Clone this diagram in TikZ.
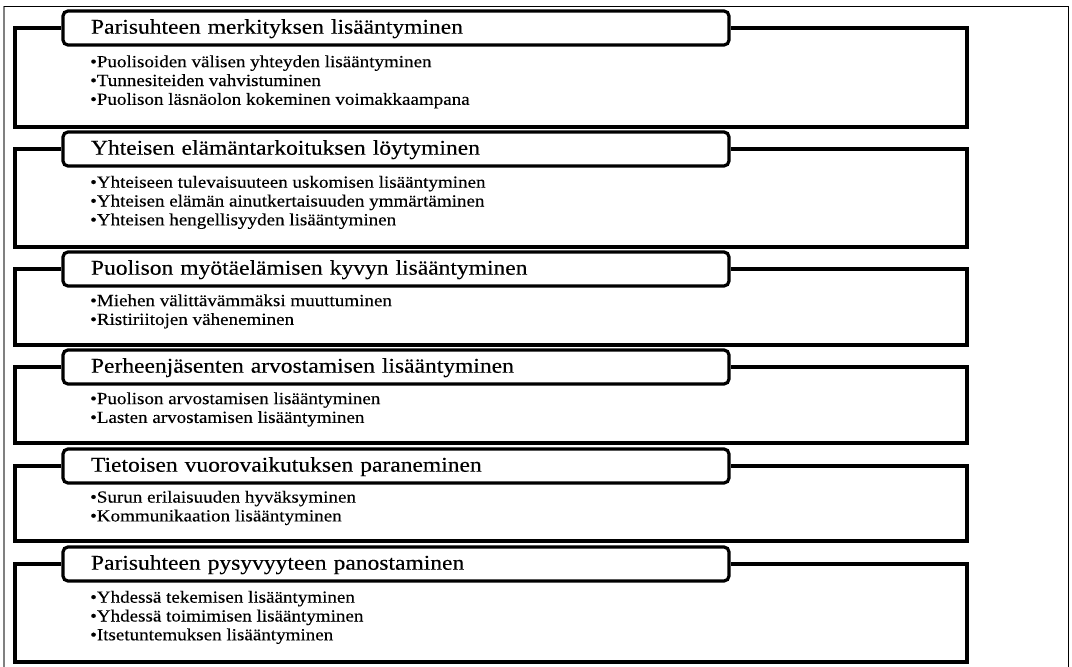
\documentclass[tikz,border=0pt]{standalone}
\usepackage{fontspec}
\setmainfont[FakeStretch=1.12,FakeBold=0.3]{Liberation Serif}
\begin{document}
\begin{tikzpicture}[x=1pt,y=-1pt,
  sect/.style={line width=3.2pt, line join=miter},
  titlebox/.style={draw, line width=3.2pt, rounded corners=5pt, minimum width=666pt,
    minimum height=34pt, text width=610pt, inner xsep=28pt, inner ysep=0pt,
    align=left, text height=15pt, text depth=3.6pt,
    font=\fontsize{21}{25}\selectfont},
  item/.style={anchor=base west, inner sep=0pt, font=\fontsize{17}{19}\selectfont},
  frame/.style={line width=1pt}]
\useasboundingbox (0,0) rectangle (1072,667);
% outer frame
\draw[gray, line width=1.5pt] (4,667) -- (4,6);
\draw[frame] (4,6) -- (1068,6) -- (1068,667);

% section 1
\node[titlebox] (t1) at (396,28) {Parisuhteen merkityksen lisääntyminen};
\draw[sect] (t1.west) -- (15,28) |- (967,127) |- (t1.east);
\node[item] (b1a) at (90,67.2) {•Puolisoiden välisen yhteyden lisääntyminen};
\node[item] (b1b) at (90,86) {•Tunnesiteiden vahvistuminen};
\node[item] (b1c) at (90,104.8) {•Puolison läsnäolon kokeminen voimakkaampana};

% section 2
\node[titlebox] (t2) at (396,149) {Yhteisen elämäntarkoituksen löytyminen};
\draw[sect] (t2.west) -- (15,149) |- (967,247) |- (t2.east);
\node[item] (b2a) at (90,187.7) {•Yhteiseen tulevaisuuteen uskomisen lisääntyminen};
\node[item] (b2b) at (90,206.5) {•Yhteisen elämän ainutkertaisuuden ymmärtäminen};
\node[item] (b2c) at (90,225.3) {•Yhteisen hengellisyyden lisääntyminen};

% section 3
\node[titlebox] (t3) at (396,269) {Puolison myötäelämisen kyvyn lisääntyminen};
\draw[sect] (t3.west) -- (15,269) |- (967,345) |- (t3.east);
\node[item] (b3a) at (90,306.1) {•Miehen välittävämmäksi muuttuminen};
\node[item] (b3b) at (90,324.9) {•Ristiriitojen väheneminen};

% section 4
\node[titlebox] (t4) at (396,367) {Perheenjäsenten arvostamisen lisääntyminen};
\draw[sect] (t4.west) -- (15,367) |- (967,443) |- (t4.east);
\node[item] (b4a) at (90,404.1) {•Puolison arvostamisen lisääntyminen};
\node[item] (b4b) at (90,422.9) {•Lasten arvostamisen lisääntyminen};

% section 5
\node[titlebox] (t5) at (396,466) {Tietoisen vuorovaikutuksen paraneminen};
\draw[sect] (t5.west) -- (15,466) |- (967,541) |- (t5.east);
\node[item] (b5a) at (90,502.6) {•Surun erilaisuuden hyväksyminen};
\node[item] (b5b) at (90,521.4) {•Kommunikaation lisääntyminen};

% section 6
\node[titlebox] (t6) at (396,564) {Parisuhteen pysyvyyteen panostaminen};
\draw[sect] (t6.west) -- (15,564) |- (967,662) |- (t6.east);
\node[item] (b6a) at (90,602.7) {•Yhdessä tekemisen lisääntyminen};
\node[item] (b6b) at (90,621.5) {•Yhdessä toimimisen lisääntyminen};
\node[item] (b6c) at (90,640.3) {•Itsetuntemuksen lisääntyminen};
\end{tikzpicture}
\end{document}
